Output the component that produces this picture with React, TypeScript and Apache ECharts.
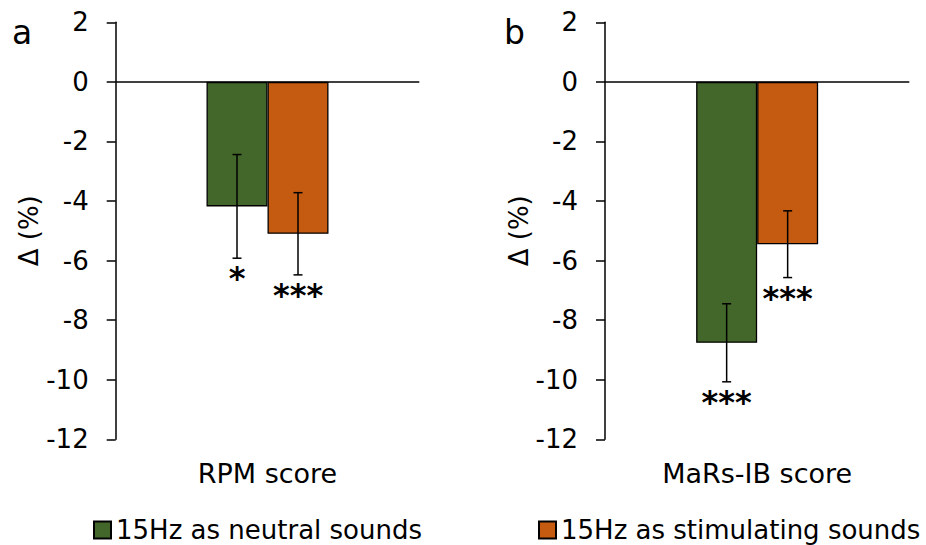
import React, { useEffect, useRef } from 'react';
import * as echarts from 'echarts';

const categories = ['RPM score', 'MaRs-IB score'];
const seriesNames = ['15Hz as neutral sounds', '15Hz as stimulating sounds'];
const neutralValues = [-4.18, -8.76];
const neutralErrors = [1.74, 1.31];
const neutralSig = ['*', '***'];
const stimulatingValues = [-5.1, -5.45];
const stimulatingErrors = [1.38, 1.12];
const stimulatingSig = ['***', '***'];
const panelLabels = ['a', 'b'];
const yMin = -12;
const yMax = 2;
const yInterval = 2;
const yAxisName = 'Δ (%)';

const FONT = 'DejaVu Sans';
const GREEN = '#43672A';
const ORANGE = '#C55A11';
const BAR_W = 61;

export default function App() {
  const ref = useRef<HTMLDivElement>(null);
  useEffect(() => {
    if (!ref.current) return;
    const chart = echarts.init(ref.current, undefined, { renderer: 'svg' });
    const grids = [
      { left: 115.7, top: 22.3, width: 303.6, height: 417 },
      { left: 605, top: 22.3, width: 304.3, height: 417 },
    ];
    const xAxes: any[] = [];
    const yAxes: any[] = [];
    const series: any[] = [];
    [0, 1].forEach((i) => {
      xAxes.push({
        type: 'category',
        gridIndex: i,
        data: [categories[i]],
        axisLine: { show: false, onZero: false },
        axisTick: { show: false },
        axisLabel: { fontSize: 27, fontFamily: FONT, color: '#000', margin: 21 },
      });
      yAxes.push({
        type: 'value',
        gridIndex: i,
        min: yMin,
        max: yMax,
        interval: yInterval,
        name: yAxisName,
        nameLocation: 'middle',
        nameGap: 73,
        nameTextStyle: { fontSize: 26, fontFamily: FONT, color: '#000' },
        axisLine: { show: true, onZero: false, lineStyle: { color: '#000', width: 1.5 } },
        axisTick: { show: true, length: 9, lineStyle: { color: '#000', width: 1.5 } },
        axisLabel: { fontSize: 26, fontFamily: FONT, color: '#000', margin: 27 },
        splitLine: { show: false },
      });
      series.push({
        type: 'bar',
        name: seriesNames[0],
        xAxisIndex: i,
        yAxisIndex: i,
        data: [neutralValues[i]],
        barWidth: BAR_W,
        barGap: '0%',
        itemStyle: { color: GREEN, borderColor: '#000', borderWidth: 1.3 },
        markLine: {
          silent: true,
          symbol: 'none',
          label: { show: false },
          lineStyle: { color: '#000', width: 1.5, type: 'solid' },
          data: [{ yAxis: 0 }],
        },
      });
      series.push({
        type: 'bar',
        name: seriesNames[1],
        xAxisIndex: i,
        yAxisIndex: i,
        data: [stimulatingValues[i]],
        barWidth: BAR_W,
        barGap: '0%',
        itemStyle: { color: ORANGE, borderColor: '#000', borderWidth: 1.3 },
      });
      series.push({
        type: 'custom',
        name: 'errors' + i,
        xAxisIndex: i,
        yAxisIndex: i,
        z: 10,
        data: [
          [0, neutralValues[i], neutralErrors[i]],
          [0, stimulatingValues[i], stimulatingErrors[i]],
        ],
        renderItem: (params: any, api: any) => {
          const idx = params.dataIndex;
          const v = api.value(1);
          const e = api.value(2);
          const offset = (idx === 0 ? -0.5 : 0.5) * BAR_W;
          const x = api.coord([0, 0])[0] + offset;
          const yHi = api.coord([0, v + e])[1];
          const yLo = api.coord([0, v - e])[1];
          const sig = idx === 0 ? neutralSig[i] : stimulatingSig[i];
          const ls = { stroke: '#000', lineWidth: 1.5 };
          return {
            type: 'group',
            children: [
              { type: 'line', shape: { x1: x, y1: yHi, x2: x, y2: yLo }, style: ls },
              { type: 'line', shape: { x1: x - 4.5, y1: yHi, x2: x + 4.5, y2: yHi }, style: ls },
              { type: 'line', shape: { x1: x - 4.5, y1: yLo, x2: x + 4.5, y2: yLo }, style: ls },
              {
                type: 'text',
                x: x,
                y: yLo + 4,
                style: {
                  text: sig,
                  font: `bold 32px "${FONT}"`,
                  fill: '#000',
                  align: 'center',
                  verticalAlign: 'top',
                },
              },
            ],
          };
        },
      });
    });
    const legendCommon = {
      top: 512,
      itemWidth: 17,
      itemHeight: 17,
      icon: 'rect',
      textStyle: { fontSize: 26, fontFamily: FONT, color: '#000' },
    };
    chart.setOption({
      animation: false,
      grid: grids,
      xAxis: xAxes,
      yAxis: yAxes,
      series,
      legend: [
        { ...legendCommon, data: [seriesNames[0]], left: 88 },
        { ...legendCommon, data: [seriesNames[1]], left: 533 },
      ],
      graphic: [
        { type: 'text', x: 12, y: 32, style: { text: panelLabels[0], font: `33px "${FONT}"`, fill: '#000', verticalAlign: 'middle' } },
        { type: 'text', x: 504, y: 32, style: { text: panelLabels[1], font: `33px "${FONT}"`, fill: '#000', verticalAlign: 'middle' } },
      ],
    });
    return () => chart.dispose();
  }, []);
  return (
    <div
      ref={ref}
      style={{ position: 'absolute', left: 0, top: 0, width: 926, height: 545, background: '#fff' }}
    />
  );
}
